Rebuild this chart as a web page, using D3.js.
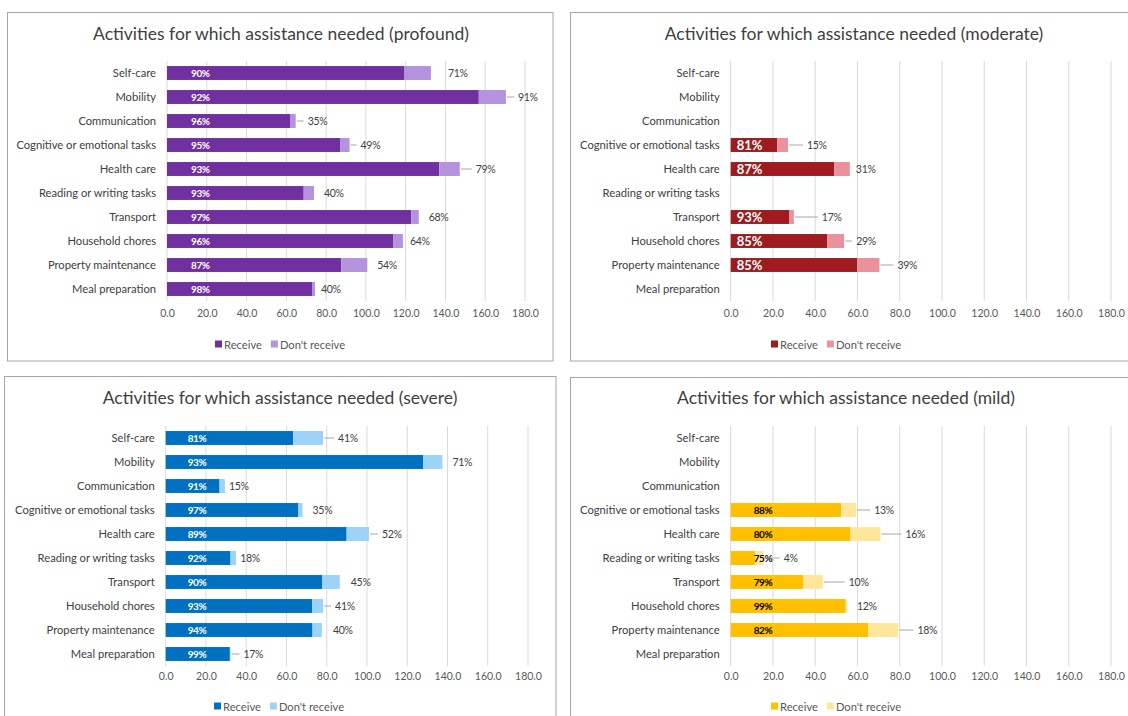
<!DOCTYPE html>
<html>
<head>
<meta charset="utf-8">
<script src="https://cdn.jsdelivr.net/npm/d3@7"></script>
<style>
  html, body { margin: 0; padding: 0; background: #ffffff; }
  svg { display: block; font-family: Lato, "Open Sans", sans-serif; }
</style>
</head>
<body>
<svg id="chart" width="1128" height="716"></svg>
<script>
// Activities for which assistance is needed, by severity of disability.
// Totals are people needing help (thousands); receivePct is the share that receives it;
// needPct is the share of the group needing help with that activity.
const categories = [
  "Self-care", "Mobility", "Communication", "Cognitive or emotional tasks", "Health care",
  "Reading or writing tasks", "Transport", "Household chores", "Property maintenance", "Meal preparation"
];
const seriesNames = ["Receive", "Don't receive"];
const xTicks = [0, 20, 40, 60, 80, 100, 120, 140, 160, 180];

const profoundTotal      = [132.7, 170.4, 64.7, 91.8, 147.2, 73.9, 126.6, 118.6, 100.7, 74.4];
const profoundReceivePct = [90, 92, 96, 95, 93, 93, 97, 96, 87, 98];
const profoundNeedPct    = [71, 91, 35, 49, 79, 40, 68, 64, 54, 40];

const moderateTotal      = [null, null, null, 27.1, 56.4, null, 29.9, 53.7, 70.4, null];
const moderateReceivePct = [null, null, null, 81, 87, null, 93, 85, 85, null];
const moderateNeedPct    = [null, null, null, 15, 31, null, 17, 29, 39, null];

const severeTotal        = [78.2, 137.5, 29.4, 68.0, 101.0, 35.0, 86.5, 78.2, 77.6, 32.2];
const severeReceivePct   = [81, 93, 91, 97, 89, 92, 90, 93, 94, 99];
const severeNeedPct      = [41, 71, 15, 35, 52, 18, 45, 41, 40, 17];

const mildTotal          = [null, null, null, 59.4, 70.9, 15.6, 43.6, 55.0, 79.4, null];
const mildReceivePct     = [null, null, null, 88, 80, 75, 79, 99, 82, null];
const mildNeedPct        = [null, null, null, 13, 16, 4, 10, 12, 18, null];

// Outer label placement (px beyond the bar end) and whether a leader line joins them.
const profoundLabelGap = [17, 12, 12, 11, 16, 10, 10, 7, 10, 6];
const profoundLeader   = [false, true, true, true, true, false, false, false, false, false];
const moderateLabelGap = [0, 0, 0, 19, 6, 0, 28, 12, 18, 0];
const moderateLeader   = [false, false, false, true, false, false, true, true, true, false];
const severeLabelGap   = [15, 10, 4, 10, 13, 4, 11, 12, 11, 13];
const severeLeader     = [true, false, false, false, true, false, false, true, false, true];
const mildLabelGap     = [0, 0, 0, 18, 25, 20, 26, 10, 19, 0];
const mildLeader       = [false, false, false, true, true, true, true, false, true, false];

const panels = [
  {
    title: "Activities for which assistance needed (profound)",
    total: profoundTotal, pct: profoundReceivePct, need: profoundNeedPct,
    gap: profoundLabelGap, leader: profoundLeader,
    colors: ["#7030a0", "#b592de"], innerColor: "#ffffff", innerSize: 10, innerOffset: 24,
    box: [7.5, 12.5, 553, 361], titleX: 281, titleY: 33,
    xRange: [167, 525], yRange: [61, 301], tickY: 318, legendY: 344, legendX: 215
  },
  {
    title: "Activities for which assistance needed (moderate)",
    total: moderateTotal, pct: moderateReceivePct, need: moderateNeedPct,
    gap: moderateLabelGap, leader: moderateLeader,
    colors: ["#9e1b1f", "#e9919d"], innerColor: "#ffffff", innerSize: 13, innerOffset: 6,
    box: [570.5, 12.5, 1150, 361], titleX: 854, titleY: 33,
    xRange: [730.7, 1111], yRange: [61, 301], tickY: 318, legendY: 344, legendX: 771
  },
  {
    title: "Activities for which assistance needed (severe)",
    total: severeTotal, pct: severeReceivePct, need: severeNeedPct,
    gap: severeLabelGap, leader: severeLeader,
    colors: ["#0070c0", "#9dd3f7"], innerColor: "#ffffff", innerSize: 10, innerOffset: 22,
    box: [4.5, 376.5, 556, 740], titleX: 280, titleY: 397,
    xRange: [165.7, 528], yRange: [426, 666], tickY: 681, legendY: 706, legendX: 214
  },
  {
    title: "Activities for which assistance needed (mild)",
    total: mildTotal, pct: mildReceivePct, need: mildNeedPct,
    gap: mildLabelGap, leader: mildLeader,
    colors: ["#ffc000", "#ffe699"], innerColor: "#000000", innerSize: 10, innerOffset: 23,
    box: [570.5, 377.5, 1150, 740], titleX: 846, titleY: 397,
    xRange: [730.7, 1111], yRange: [426, 666], tickY: 681, legendY: 706, legendX: 771
  }
];

const svg = d3.select("#chart");

function drawPanel(p) {
  const g = svg.append("g");

  // frame
  g.append("rect")
    .attr("x", p.box[0]).attr("y", p.box[1])
    .attr("width", p.box[2] - p.box[0]).attr("height", p.box[3] - p.box[1])
    .attr("fill", "#ffffff").attr("stroke", "#a6a6a6").attr("stroke-width", 1);

  // title
  g.append("text")
    .attr("x", p.titleX).attr("y", p.titleY)
    .attr("text-anchor", "middle").attr("dominant-baseline", "central")
    .attr("fill", "#404040").attr("font-size", 17.5)
    .text(p.title);

  const x = d3.scaleLinear().domain([0, 180]).range(p.xRange);
  const y = d3.scaleBand().domain(categories).range(p.yRange)
    .paddingInner(0.42).paddingOuter(0.21);

  // vertical gridlines
  g.append("g").selectAll("line").data(xTicks).join("line")
    .attr("x1", d => x(d)).attr("x2", d => x(d))
    .attr("y1", p.yRange[0]).attr("y2", p.yRange[1])
    .attr("stroke", "#d9d9d9").attr("stroke-width", 1);

  // value axis labels
  const xAxis = d3.axisBottom(x).tickValues(xTicks).tickFormat(d3.format(".1f")).tickSize(0);
  const ax = g.append("g").attr("transform", `translate(0,${p.tickY - 6})`).call(xAxis);
  ax.select(".domain").remove();
  ax.selectAll("text").attr("fill", "#595959").attr("font-size", 10.5)
    .attr("font-family", "Lato, sans-serif").attr("dy", "0.2em");

  // category axis labels
  const yAxis = d3.axisLeft(y).tickSize(0).tickPadding(11);
  const ay = g.append("g").attr("transform", `translate(${p.xRange[0]},0)`).call(yAxis);
  ay.select(".domain").remove();
  ay.selectAll("text").attr("fill", "#404040").attr("font-size", 11.2)
    .attr("font-family", "Lato, sans-serif");

  const rows = categories.map((c, i) => {
    const total = p.total[i];
    if (total == null) return null;
    const receive = total * p.pct[i] / 100;
    return { cat: c, i, total, receive, dont: total - receive, pct: p.pct[i], need: p.need[i] };
  }).filter(Boolean);

  const bars = g.append("g");
  // Receive segment
  bars.selectAll("rect.rcv").data(rows).join("rect").attr("class", "rcv")
    .attr("x", x(0)).attr("y", d => y(d.cat))
    .attr("width", d => x(d.receive) - x(0)).attr("height", y.bandwidth())
    .attr("fill", p.colors[0]);
  // Don't receive segment
  bars.selectAll("rect.dnt").data(rows).join("rect").attr("class", "dnt")
    .attr("x", d => x(d.receive)).attr("y", d => y(d.cat))
    .attr("width", d => x(d.total) - x(d.receive)).attr("height", y.bandwidth())
    .attr("fill", p.colors[1]);

  // share receiving, inside the bar
  bars.selectAll("text.inner").data(rows).join("text").attr("class", "inner")
    .attr("x", x(0) + p.innerOffset)
    .attr("y", d => y(d.cat) + y.bandwidth() / 2)
    .attr("dominant-baseline", "central")
    .attr("fill", p.innerColor).attr("font-weight", "bold")
    .attr("font-size", p.innerSize).attr("letter-spacing", p.innerSize > 11 ? 0 : -0.4)
    .text(d => d.pct + "%");

  // leader lines
  bars.selectAll("line.leader").data(rows.filter(d => p.leader[d.i])).join("line").attr("class", "leader")
    .attr("x1", d => x(d.total) + 1).attr("x2", d => x(d.total) + p.gap[d.i] - 4)
    .attr("y1", d => y(d.cat) + y.bandwidth() / 2).attr("y2", d => y(d.cat) + y.bandwidth() / 2)
    .attr("stroke", "#a6a6a6").attr("stroke-width", 1);

  // share needing help, beyond the bar
  bars.selectAll("text.outer").data(rows).join("text").attr("class", "outer")
    .attr("x", d => x(d.total) + p.gap[d.i])
    .attr("y", d => y(d.cat) + y.bandwidth() / 2)
    .attr("dominant-baseline", "central")
    .attr("fill", "#404040").attr("font-size", 10.5).attr("letter-spacing", -0.3)
    .text(d => d.need + "%");

  // legend
  const lg = g.append("g").attr("transform", `translate(${p.legendX},${p.legendY})`);
  let lx = 0;
  seriesNames.forEach((name, k) => {
    lg.append("rect").attr("x", lx).attr("y", -3.5).attr("width", 7).attr("height", 7)
      .attr("fill", p.colors[k]);
    const t = lg.append("text").attr("x", lx + 9).attr("y", 0)
      .attr("dominant-baseline", "central")
      .attr("fill", "#595959").attr("font-size", 11.2)
      .text(name);
    lx += 9 + t.node().getComputedTextLength() + 9;
  });
}

panels.forEach(drawPanel);
</script>
</body>
</html>
